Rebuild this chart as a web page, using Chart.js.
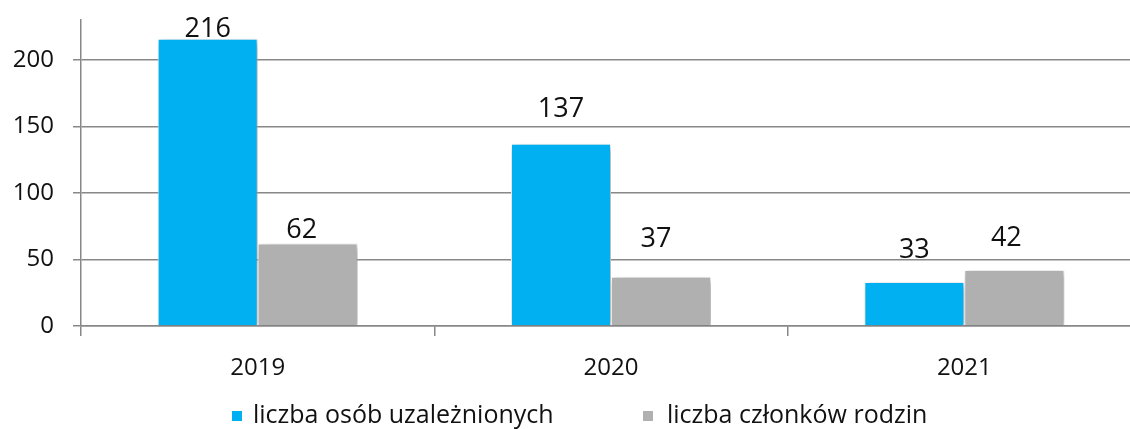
<!DOCTYPE html>
<html><head><meta charset="utf-8">
<script src="https://cdn.jsdelivr.net/npm/chart.js@4/dist/chart.umd.min.js"></script>
<style>
html,body{margin:0;padding:0;background:#fff;overflow:hidden;width:1130px;height:429px}
#wrap{position:absolute;left:0;top:0;width:1146px;height:429px}
#legend{position:absolute;top:398px;left:0;height:34px;font-family:'Open Sans','Noto Sans',sans-serif;font-size:25px;color:#111;}
.item{position:absolute;top:0;height:34px;line-height:34px;white-space:nowrap}
.box{position:absolute;top:13px;left:0;width:10px;height:10px}
.txt{position:absolute;top:-2px;left:0;white-space:nowrap}
</style></head>
<body><div id="wrap"><canvas id="c" width="1146" height="429"></canvas></div>
<div id="legend"></div>
<script>
const categories = ['2019', '2020', '2021'];
const seriesNames = ['liczba osób uzależnionych', 'liczba członków rodzin'];
const addicted = [216, 137, 33];
const families = [62, 37, 42];
const yTicks = [0, 50, 100, 150, 200];
const seriesColors = ['#00B0F0', '#B0B0B0'];

// label placement (style only): [dx, gap above bar] per dataset/point
const labelNudge = [
  [[0, 2], [0, 27], [0, 24]],
  [[-6, 6], [-5, 30], [-8, 24]]
];
// legend placement (style only): [box x, text x]
const legendPos = [[232, 253], [643, 667]];

const FONT = "'Open Sans', 'Noto Sans', sans-serif";

// HTML legend built from series names/colours
const lg = document.getElementById('legend');
seriesNames.forEach((name, i) => {
  const it = document.createElement('div');
  it.className = 'item';
  it.style.left = legendPos[i][0] + 'px';
  const b = document.createElement('span');
  b.className = 'box'; b.style.background = seriesColors[i];
  const t = document.createElement('span');
  t.className = 'txt'; t.style.left = (legendPos[i][1] - legendPos[i][0]) + 'px';
  t.textContent = name;
  it.appendChild(b); it.appendChild(t); lg.appendChild(it);
});

const shadowPlugin = {
  id: 'barShadow',
  beforeDatasetsDraw(chart) {
    const ctx = chart.ctx;
    ctx.save();
    ctx.shadowColor = 'rgba(0,0,0,0.4)';
    ctx.shadowBlur = 7;
    ctx.shadowOffsetX = 2;
    ctx.shadowOffsetY = 2;
  },
  afterDatasetsDraw(chart) {
    chart.ctx.restore();
  }
};

const labelPlugin = {
  id: 'valueLabels',
  afterDraw(chart) {
    const ctx = chart.ctx;
    ctx.save();
    ctx.font = "27px " + FONT;
    ctx.fillStyle = '#111';
    ctx.textAlign = 'center';
    ctx.textBaseline = 'alphabetic';
    chart.data.datasets.forEach((ds, di) => {
      chart.getDatasetMeta(di).data.forEach((bar, i) => {
        const n = labelNudge[di][i];
        ctx.fillText(String(ds.data[i]), bar.x + n[0], bar.y - n[1]);
      });
    });
    ctx.restore();
  }
};

function zeroPad(s) { s.paddingTop = 0; s.paddingBottom = 0; s.paddingLeft = 0; s.paddingRight = 0; }

new Chart(document.getElementById('c'), {
  type: 'bar',
  data: {
    labels: categories,
    datasets: [
      { label: seriesNames[0], data: addicted, backgroundColor: seriesColors[0], borderColor: '#ffffff', borderWidth: 1 },
      { label: seriesNames[1], data: families, backgroundColor: seriesColors[1], borderColor: '#ffffff', borderWidth: 1 }
    ]
  },
  options: {
    responsive: false,
    animation: false,
    devicePixelRatio: 1,
    categoryPercentage: 0.566,
    barPercentage: 1,
    layout: { padding: { top: 20, right: 5, bottom: 41, left: 0 } },
    plugins: {
      legend: { display: false },
      tooltip: { enabled: false }
    },
    scales: {
      x: {
        grid: { offset: true, drawOnChartArea: false, drawTicks: true, tickLength: 10, color: '#888888', lineWidth: 1.5 },
        border: { display: true, color: '#888888', width: 1.5 },
        ticks: { font: { family: FONT, size: 24 }, color: '#111', padding: 18 },
        afterFit(s) { s.height = 62; zeroPad(s); }
      },
      y: {
        min: 0, max: 230,
        afterBuildTicks(s) { s.ticks = yTicks.map(v => ({ value: v })); },
        grid: { color: '#888888', lineWidth: 1.5, tickLength: 8, drawTicks: true },
        border: { display: true, color: '#888888', width: 1.5 },
        ticks: { font: { family: FONT, size: 24 }, color: '#111', padding: 19 },
        afterFit(s) { s.width = 81; zeroPad(s); }
      }
    }
  },
  plugins: [shadowPlugin, labelPlugin]
});
</script>
</body></html>
